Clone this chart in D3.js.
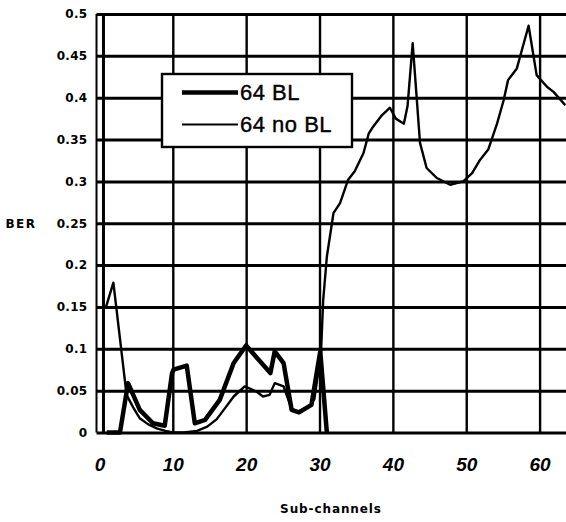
<!DOCTYPE html>
<html>
<head>
<meta charset="utf-8">
<script src="https://cdn.jsdelivr.net/npm/d3@7"></script>
<style>
  html, body { margin: 0; padding: 0; background: #fff; }
  svg { display: block; }
</style>
</head>
<body>
<svg id="chart" width="566" height="522"></svg>
<script>
// Axis ticks
const xTicks = [0, 10, 20, 30, 40, 50, 60];
const yTicks = [0, 0.05, 0.1, 0.15, 0.2, 0.25, 0.3, 0.35, 0.4, 0.45, 0.5];
const yTickLabels = ["0", "0.05", "0.1", "0.15", "0.2", "0.25", "0.3", "0.35", "0.4", "0.45", "0.5"];

// Series: 64 sub-channels with bit loading
const blChannels = [1, 2.8, 3.9, 5.5, 7.3, 8.9, 9.9, 10.1, 11.9, 13.0, 14.4, 16.4, 18.3, 20.0, 21.4, 23.3, 23.9, 25.1, 26.2, 27.2, 28.9, 30.1, 31.0];
const blBer      = [0, 0, 0.059, 0.027, 0.011, 0.008, 0.071, 0.075, 0.080, 0.011, 0.015, 0.039, 0.083, 0.104, 0.090, 0.071, 0.097, 0.083, 0.027, 0.024, 0.033, 0.097, 0];

// Series: 64 sub-channels without bit loading
const noBlChannels = [0.9, 1.9, 3.7, 4.6, 5.5, 6.6, 7.8, 9.0, 10.0, 11.5, 13.3, 14.7, 16.0, 17.2, 18.3, 19.8, 21.4, 22.3, 23.2, 23.9, 25.1, 26.2, 27.1, 28.7, 29.3, 30.2, 30.5, 31.0, 31.9, 32.8, 33.9, 34.8, 36.0, 36.7, 37.2, 38.5, 39.6, 40.4, 41.5, 42.0, 42.7, 43.7, 44.6, 46.0, 47.8, 49.6, 50.8, 51.9, 53.0, 54.2, 55.1, 55.7, 56.9, 58.5, 59.6, 61.0, 61.9, 63.5];
const noBlBer      = [0.15, 0.179, 0.045, 0.03, 0.017, 0.01, 0.005, 0.002, 0.0, 0.0, 0.002, 0.007, 0.016, 0.03, 0.043, 0.055, 0.049, 0.043, 0.045, 0.059, 0.055, 0.028, 0.025, 0.032, 0.04, 0.095, 0.158, 0.21, 0.262, 0.274, 0.302, 0.312, 0.334, 0.357, 0.364, 0.379, 0.388, 0.375, 0.369, 0.39, 0.465, 0.346, 0.316, 0.304, 0.296, 0.300, 0.31, 0.326, 0.338, 0.369, 0.397, 0.421, 0.435, 0.486, 0.427, 0.413, 0.407, 0.391];

const legendNames = ["64 BL", "64 no BL"];

const svg = d3.select("#chart");
const plotL = 96.5, plotR = 566, plotT = 14, plotB = 432.5;

const x = d3.scaleLinear().domain([-0.4, 63.6]).range([plotL, plotR]);
const y = d3.scaleLinear().domain([0, 0.5]).range([plotB, plotT]);

// Horizontal grid
const gy = svg.append("g")
  .attr("transform", `translate(${plotL},0)`)
  .call(d3.axisLeft(y).tickValues(yTicks).tickSize(-(plotR - plotL)).tickFormat(""));
gy.select(".domain").remove();
gy.selectAll(".tick line").attr("stroke", "#000").attr("stroke-width", 3);

// Vertical grid
const gx = svg.append("g")
  .attr("transform", `translate(0,${plotB})`)
  .call(d3.axisBottom(x).tickValues(xTicks.filter(d => d > 0)).tickSize(-(plotB - plotT)).tickFormat(""));
gx.select(".domain").remove();
gx.selectAll(".tick line").attr("stroke", "#000").attr("stroke-width", 2.4);

// Left frame and the heavy line beside it
svg.append("line").attr("x1", plotL).attr("x2", plotL).attr("y1", plotT).attr("y2", plotB)
  .attr("stroke", "#000").attr("stroke-width", 2);
svg.append("line").attr("x1", x(0.55)).attr("x2", x(0.55)).attr("y1", plotT).attr("y2", plotB)
  .attr("stroke", "#000").attr("stroke-width", 3);

// Y tick labels
const yl = svg.append("g")
  .attr("transform", `translate(${plotL},0)`)
  .call(d3.axisLeft(y).tickValues(yTicks).tickSize(0).tickPadding(9)
    .tickFormat((d, i) => yTickLabels[i]));
yl.select(".domain").remove();
yl.selectAll("text")
  .attr("font-family", "DejaVu Sans")
  .attr("font-weight", "bold")
  .attr("font-size", 12)
  .attr("letter-spacing", 0.3)
  .attr("fill", "#000");

// X tick labels
const xl = svg.append("g")
  .attr("transform", `translate(0,${plotB})`)
  .call(d3.axisBottom(x).tickValues(xTicks).tickSize(0).tickPadding(25));
xl.select(".domain").remove();
xl.selectAll("text")
  .attr("font-family", "Liberation Sans")
  .attr("font-style", "italic")
  .attr("font-weight", "bold")
  .attr("font-size", 19)
  .attr("fill", "#000");

// Axis titles
svg.append("text").attr("x", 21).attr("y", 228).attr("text-anchor", "middle")
  .attr("font-family", "DejaVu Sans").attr("font-weight", "bold").attr("font-size", 12)
  .attr("letter-spacing", 1.5).text("BER");
svg.append("text").attr("x", 331).attr("y", 513).attr("text-anchor", "middle")
  .attr("font-family", "DejaVu Sans").attr("font-weight", "bold").attr("font-size", 12)
  .attr("letter-spacing", 0.9).text("Sub-channels");

// Data lines
const lineGen = (xs, ys) => d3.line()
  .x((d, i) => x(xs[i]))
  .y((d, i) => y(ys[i]))(ys);

svg.append("path").attr("d", lineGen(noBlChannels, noBlBer))
  .attr("fill", "none").attr("stroke", "#000").attr("stroke-width", 2.4).attr("stroke-linejoin", "round");
svg.append("path").attr("d", lineGen(blChannels, blBer))
  .attr("fill", "none").attr("stroke", "#000").attr("stroke-width", 4.5).attr("stroke-linejoin", "round");

// Legend
const lg = svg.append("g");
lg.append("rect").attr("x", 162).attr("y", 74).attr("width", 190).attr("height", 73)
  .attr("fill", "#fff").attr("stroke", "#000").attr("stroke-width", 2.4);
const widths = [4.5, 2.2];
legendNames.forEach((name, i) => {
  const yy = 92.5 + i * 32;
  lg.append("line").attr("x1", 182).attr("x2", 238).attr("y1", yy).attr("y2", yy)
    .attr("stroke", "#000").attr("stroke-width", widths[i]);
  lg.append("text").attr("x", 240).attr("y", yy + 7.5)
    .attr("font-family", "Liberation Sans").attr("font-size", 22).attr("fill", "#000")
    .attr("letter-spacing", 0.5)
    .attr("stroke", "#000").attr("stroke-width", 0.4)
    .text(name);
});
</script>
</body>
</html>
